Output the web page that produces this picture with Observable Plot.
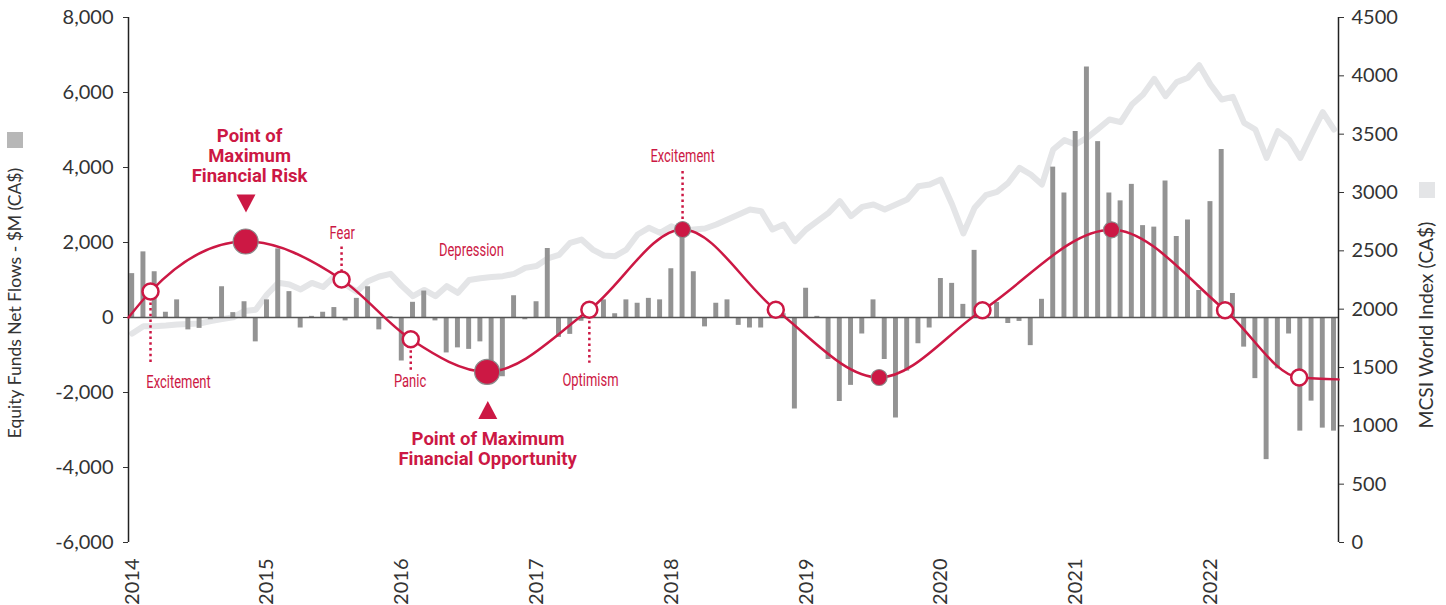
<!DOCTYPE html>
<html>
<head>
<meta charset="utf-8">
<script src="https://cdn.jsdelivr.net/npm/d3@7"></script>
<script src="https://cdn.jsdelivr.net/npm/@observablehq/plot@0.6"></script>
<style>
  html, body { margin: 0; padding: 0; background: #fff; }
  #chart svg { display: block; }
</style>
</head>
<body>
<div id="chart"></div>
<script>
// ---------- DATA ----------
const years = ["2014", "2015", "2016", "2017", "2018", "2019", "2020", "2021", "2022"];

// Monthly equity fund net flows, $M (CA$), Jan 2014 .. Dec 2022
const flows = [
  1170, 1750, 1220, 140, 470, -330, -290, -60, 820, 130, 420, -650,
  470, 1830, 690, -280, 30, 140, 265, -90, 510, 820, -330, 20,
  -1160, 405, 705, -90, -945, -810, -850, -650, -1500, -1580, 580, -60,
  420, 1840, -530, -450, -100, 150, 470, 100, 470, 380, 510, 470,
  1300, 2350, 1220, -250, 380, 470, -210, -280, -280, 150, 100, -2440,
  780, 30, -1120, -2240, -1810, -440, 470, -1120, -2680, -1430, -700, -280,
  1040, 910, 350, 1790, 150, 400, -160, -105, -750, 485, 4010, 3320,
  4960, 6680, 4690, 3320, 3110, 3550, 2450, 2410, 3640, 2160, 2600, 720,
  3090, 4480, 640, -790, -1630, -3790, -1370, -440, -3030, -2230, -2950, -3030
];

// Monthly MSCI World Index (CA$)
const msci = [
  1791, 1854, 1854, 1860, 1869, 1872, 1877, 1898, 1915, 1930, 1985, 1995,
  2126, 2226, 2211, 2169, 2225, 2190, 2280, 2210, 2150, 2240, 2280, 2303,
  2200, 2111, 2165, 2111, 2197, 2140, 2250, 2265, 2275, 2283, 2303, 2354,
  2370, 2435, 2465, 2569, 2597, 2511, 2460, 2454, 2511, 2640, 2697, 2654,
  2711, 2668, 2683, 2691, 2726, 2769, 2811, 2854, 2840, 2683, 2726, 2583,
  2683, 2754, 2826, 2926, 2797, 2877, 2897, 2854, 2897, 2940, 3054, 3069,
  3111, 2897, 2649, 2869, 2977, 3006, 3083, 3211, 3154, 3069, 3369, 3449,
  3411, 3469, 3546, 3626, 3603, 3754, 3840, 3974, 3826, 3946, 3983, 4091,
  3926, 3797, 3820, 3597, 3540, 3297, 3526, 3454, 3297, 3497, 3689, 3540
];

const leftTicks = [-6000, -4000, -2000, 0, 2000, 4000, 6000, 8000];
const rightTicks = [0, 500, 1000, 1500, 2000, 2500, 3000, 3500, 4000, 4500];

// Investor-emotion cycle curve (month index, $M units)
const cycleX = [-0.33, 1.63, 10.1, 18.64, 24.8, 31.6, 40.7, 49.0, 57.3, 66.5, 75.7, 87.2, 97.3, 103.9, 107.4];
const cycleV = [0, 693, 2027, 1013, -580, -1450, 205, 2347, 205, -1600, 195, 2339, 195, -1600, -1650];

// circle markers on the curve
const openX = [1.63, 18.64, 24.8, 40.7, 57.3, 75.7, 97.3, 103.9];
const openV = [693, 1013, -580, 205, 205, 195, 195, -1600];
const bigX = [10.1, 31.6];
const bigV = [2027, -1450];
const smallX = [49.0, 66.5, 87.2];
const smallV = [2347, -1600, 2339];

// dotted leaders
const leaderX = [1.63, 18.64, 24.8, 40.7, 49.0];
const leaderTop = [693, 1880, -580, 205, 3893];
const leaderBottom = [-1220, 1013, -1440, -1220, 2347];

// emotion labels
const emoText = ["Excitement", "Fear", "Depression", "Panic", "Optimism", "Excitement"];
const emoX = [4.12, 18.7, 30.2, 24.74, 40.8, 49.0];
const emoV = [-1733, 2240, 1787, -1707, -1680, 4293];

// bold callouts
const calloutText = ["Point of", "Maximum", "Financial Risk", "Point of Maximum", "Financial Opportunity"];
const calloutX = [10.45, 10.45, 10.45, 31.68, 31.64];
const calloutV = [4840, 4307, 3773, -3253, -3787];

const triDownX = [10.13], triDownV = [3040];
const triUpX = [31.66], triUpV = [-2467];

// ---------- BUILD ----------
const RED = "#cc1844";
const toLeft = v => -6000 + v * 14000 / 4500;
const fromLeft = d => (d + 6000) * 4500 / 14000;

const bars = flows.map((v, i) => ({i, v}));
const line = msci.map((v, i) => ({i, v: toLeft(v)}));
const curve = cycleX.map((x, k) => ({x, v: cycleV[k]}));
const opens = openX.map((x, k) => ({x, v: openV[k]}));
const bigs = bigX.map((x, k) => ({x, v: bigV[k]}));
const smalls = smallX.map((x, k) => ({x, v: smallV[k]}));
const leaders = leaderX.map((x, k) => ({x, y1: leaderTop[k], y2: leaderBottom[k]}));
const emos = emoText.map((t, k) => ({t, x: emoX[k], v: emoV[k]}));
const callouts = calloutText.map((t, k) => ({t, x: calloutX[k], v: calloutV[k]}));

const triDown = {draw(ctx, size) { const r = Math.sqrt(size / Math.PI); ctx.moveTo(-r, -r * 0.95); ctx.lineTo(r, -r * 0.95); ctx.lineTo(0, r * 0.95); ctx.closePath(); }};
const triUp = {draw(ctx, size) { const r = Math.sqrt(size / Math.PI); ctx.moveTo(-r, r * 0.95); ctx.lineTo(r, r * 0.95); ctx.lineTo(0, -r * 0.95); ctx.closePath(); }};

const XMIN = -0.33, XMAX = 107.4;
const NARROW = "Roboto, 'Noto Sans', sans-serif";
const yearTicks = years.map((y, k) => k * 12);

const chart = Plot.plot({
  width: 1446,
  height: 605,
  marginLeft: 128,
  marginRight: 108,
  marginTop: 17,
  marginBottom: 63,
  style: {fontFamily: "Lato, 'Open Sans', sans-serif", fontSize: "20px", color: "#333", background: "#fff"},
  x: {type: "linear", domain: [XMIN, XMAX], axis: null},
  y: {domain: [-6000, 8000], axis: null},
  marks: [
    Plot.line(line, {x: "i", y: "v", stroke: "#e4e5e7", strokeWidth: 6, strokeLinejoin: "round", strokeLinecap: "round"}),
    Plot.rectY(bars, {x1: d => d.i - 0.22, x2: d => d.i + 0.22, y: "v", fill: "#939393"}),
    Plot.ruleY([0], {x1: XMIN, x2: XMAX, stroke: "#555", strokeWidth: 1.5}),
    Plot.ruleX([XMIN, XMAX], {y1: -6000, y2: 8000, stroke: "#222", strokeWidth: 1.5}),
    Plot.axisY({anchor: "left", ticks: leftTicks, tickFormat: d => d3.format(",")(d).replace("−", "-"), tickSize: 5, tickPadding: 10, fontSize: 20, label: null}),
    Plot.axisY({anchor: "right", ticks: rightTicks.map(toLeft), tickFormat: d => String(Math.round(fromLeft(d))), tickSize: 5, tickPadding: 8, fontSize: 20, label: null}),
    Plot.axisX({anchor: "bottom", ticks: yearTicks, tickFormat: d => years[Math.round(d / 12)], tickRotate: -90, tickSize: 0, tickPadding: 16, fontSize: 20, label: null}),
    Plot.line(curve, {x: "x", y: "v", stroke: RED, strokeWidth: 2.5, curve: "monotone-x"}),
    Plot.ruleX(leaders, {x: "x", y1: "y1", y2: "y2", stroke: RED, strokeWidth: 2.5, strokeDasharray: "2.5,3.2"}),
    Plot.dot(opens, {x: "x", y: "v", r: 8, fill: "#fff", stroke: RED, strokeWidth: 2.5}),
    Plot.dot(bigs, {x: "x", y: "v", r: 12.5, fill: RED, stroke: "#8a8a8a", strokeWidth: 1.2}),
    Plot.dot(smalls, {x: "x", y: "v", r: 8, fill: RED, stroke: "#8a8a8a", strokeWidth: 1.2}),
    Plot.dot(triDownX.map((x, k) => ({x, v: triDownV[k]})), {x: "x", y: "v", r: 9.5, symbol: triDown, fill: RED, stroke: "none"}),
    Plot.dot(triUpX.map((x, k) => ({x, v: triUpV[k]})), {x: "x", y: "v", r: 9.5, symbol: triUp, fill: RED, stroke: "none"}),
    Plot.text(emos, {x: "x", y: "v", text: "t", fill: RED, fontFamily: NARROW, fontSize: 18, lineAnchor: "middle", className: "emo"}),
    Plot.text(callouts, {x: "x", y: "v", text: "t", fill: RED, fontFamily: NARROW, fontSize: 18.5, fontWeight: "bold", lineAnchor: "middle", className: "callout"})
  ]
});

document.getElementById("chart").appendChild(chart);

// condensed look for the annotation typeface (horizontal squeeze around each anchor)
function condense(selector, k) {
  d3.select(chart).selectAll(selector).each(function() {
    const t = this.getAttribute("transform") || "";
    this.setAttribute("transform", `${t} scale(${k},1)`);
  });
}
condense("g.emo text", 0.72);

// axis titles with legend swatches
const svg = d3.select(chart);
svg.append("rect").attr("x", 7).attr("y", 132).attr("width", 16).attr("height", 16).attr("fill", "#b7b7b7");
svg.append("text").attr("transform", "translate(21,303) rotate(-90)").attr("text-anchor", "middle")
  .attr("font-family", "Lato, 'Open Sans', sans-serif").attr("font-size", 17.5).attr("fill", "#333")
  .text("Equity Funds Net Flows - $M (CA$)");
svg.append("rect").attr("x", 1419).attr("y", 182).attr("width", 16).attr("height", 16).attr("fill", "#e4e5e7");
svg.append("text").attr("transform", "translate(1433,325) rotate(-90)").attr("text-anchor", "middle")
  .attr("font-family", "Lato, 'Open Sans', sans-serif").attr("font-size", 19.3).attr("fill", "#333")
  .text("MCSI World Index (CA$)");
</script>
</body>
</html>
